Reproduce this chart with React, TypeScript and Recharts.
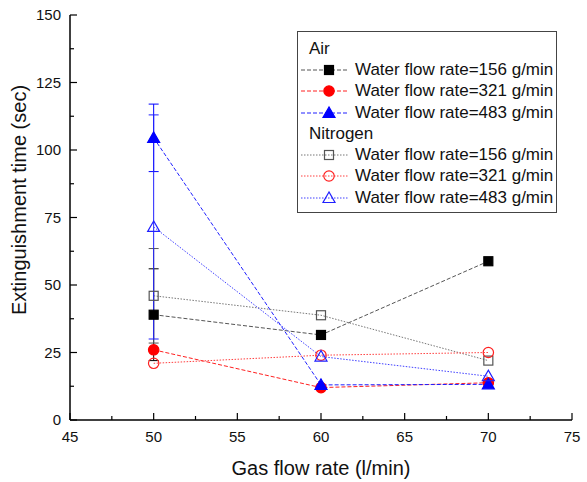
import { ComposedChart, Line, XAxis, YAxis, ErrorBar, Legend } from 'recharts'

const FONT = '"Liberation Sans", Arial, sans-serif'

// gas flow rate (l/min)
const gasFlow = [50, 60, 70]

// extinguishment time (sec)
const air156 = [39, 31.5, 58.8]
const air321 = [26, 12, 13.8]
const air483 = [104.5, 13, 13.2]
const n2156 = [46, 38.8, 22]
const n2321 = [21, 24, 25]
const n2483 = [71.5, 23.5, 16.2]

// error bars only at 50 l/min
const air156Err = [17, null, null]
const air483Err = [12.5, null, null]
const n2156Err = [17.5, null, null]
const n2483Err = [41.5, null, null]

const xTicks = [45, 47.5, 50, 52.5, 55, 57.5, 60, 62.5, 65, 67.5, 70, 72.5, 75]
const yTicks = [0, 12.5, 25, 37.5, 50, 62.5, 75, 87.5, 100, 112.5, 125, 137.5, 150]

const data = gasFlow.map((x, i) => ({
  x,
  air156: air156[i],
  air321: air321[i],
  air483: air483[i],
  n2156: n2156[i],
  n2321: n2321[i],
  n2483: n2483[i],
  air156Err: air156Err[i],
  air483Err: air483Err[i],
  n2156Err: n2156Err[i],
  n2483Err: n2483Err[i],
}))

type Shape = 'square' | 'circle' | 'triangle'

interface SeriesDef {
  key: string
  group: 'Air' | 'Nitrogen'
  name: string
  line: string
  mark: string
  dash: string
  shape: Shape
  filled: boolean
  errKey?: string
}

const SERIES: SeriesDef[] = [
  { key: 'air156', group: 'Air', name: 'Water flow rate=156 g/min', line: '#555', mark: '#000', dash: '4 2', shape: 'square', filled: true, errKey: 'air156Err' },
  { key: 'air321', group: 'Air', name: 'Water flow rate=321 g/min', line: '#ff2020', mark: '#ff0000', dash: '4 2', shape: 'circle', filled: true },
  { key: 'air483', group: 'Air', name: 'Water flow rate=483 g/min', line: '#2020ff', mark: '#0000ff', dash: '4 2', shape: 'triangle', filled: true, errKey: 'air483Err' },
  { key: 'n2156', group: 'Nitrogen', name: 'Water flow rate=156 g/min', line: '#777', mark: '#555', dash: '1.5 1.5', shape: 'square', filled: false, errKey: 'n2156Err' },
  { key: 'n2321', group: 'Nitrogen', name: 'Water flow rate=321 g/min', line: '#ff4040', mark: '#ff2020', dash: '1.5 1.5', shape: 'circle', filled: false },
  { key: 'n2483', group: 'Nitrogen', name: 'Water flow rate=483 g/min', line: '#4040ff', mark: '#2020ff', dash: '1.5 1.5', shape: 'triangle', filled: false, errKey: 'n2483Err' },
]

function markerShape(shape: Shape, color: string, filled: boolean, cx: number, cy: number, key?: any) {
  const fill = filled ? color : 'none'
  if (shape === 'square') {
    return <rect key={key} x={cx - 4.5} y={cy - 4.5} width={9} height={9} fill={fill} stroke={color} strokeWidth={1.2} />
  }
  if (shape === 'circle') {
    return <circle key={key} cx={cx} cy={cy} r={5.2} fill={fill} stroke={color} strokeWidth={1.2} />
  }
  return (
    <polygon
      key={key}
      points={`${cx},${cy - 6} ${cx - 6},${cy + 4.5} ${cx + 6},${cy + 4.5}`}
      fill={fill}
      stroke={color}
      strokeWidth={1.2}
    />
  )
}

const makeDot = (s: SeriesDef) => (props: any) => {
  const { cx, cy, index } = props
  if (cx == null || cy == null) return <g key={index} />
  return markerShape(s.shape, s.mark, s.filled, cx, cy, index)
}

const BottomTick = (props: any) => {
  const { x, y, payload } = props
  const major = payload.value % 5 === 0
  return (
    <g>
      <line x1={x} y1={y} x2={x} y2={y - (major ? 7 : 4)} stroke="#000" strokeWidth={1.2} />
      {major && (
        <text x={x} y={y + 22} textAnchor="middle" fontSize={15} fontFamily={FONT} fill="#111">
          {payload.value}
        </text>
      )}
    </g>
  )
}

const TopTick = (props: any) => {
  const { x, y, payload } = props
  const major = payload.value % 5 === 0
  return <line x1={x} y1={y} x2={x} y2={y + (major ? 7 : 4)} stroke="#000" strokeWidth={1.2} />
}

const LeftTick = (props: any) => {
  const { x, y, payload } = props
  const major = payload.value % 25 === 0
  return (
    <g>
      <line x1={x} y1={y} x2={x + (major ? 7 : 4)} y2={y} stroke="#000" strokeWidth={1.2} />
      {major && (
        <text x={x - 9} y={y + 5} textAnchor="end" fontSize={15} fontFamily={FONT} fill="#111">
          {payload.value}
        </text>
      )}
    </g>
  )
}

const RightTick = (props: any) => {
  const { x, y, payload } = props
  const major = payload.value % 25 === 0
  return <line x1={x} y1={y} x2={x - (major ? 7 : 4)} y2={y} stroke="#000" strokeWidth={1.2} />
}

const LegendBox = () => {
  const rows: { kind: 'head' | 'item'; text: string; s?: SeriesDef }[] = []
  for (const g of ['Air', 'Nitrogen']) {
    rows.push({ kind: 'head', text: g })
    SERIES.filter((s) => s.group === g).forEach((s) => rows.push({ kind: 'item', text: s.name, s }))
  }
  return (
    <div
      style={{
        border: '1px solid #444',
        background: '#fff',
        padding: '6px 0 4px 0',
        fontFamily: FONT,
        fontSize: 17,
        color: '#111',
        boxSizing: 'border-box',
        width: 260,
      }}
    >
      {rows.map((r, i) =>
        r.kind === 'head' ? (
          <div key={i} style={{ height: 21.3, lineHeight: '21.3px', paddingLeft: 11 }}>
            {r.text}
          </div>
        ) : (
          <div key={i} style={{ height: 21.3, display: 'flex', alignItems: 'center' }}>
            <svg width={55} height={20} style={{ marginLeft: 2, flex: 'none' }}>
              <line x1={1} y1={10} x2={48} y2={10} stroke={r.s!.line} strokeDasharray={r.s!.dash} strokeWidth={1} />
              {markerShape(r.s!.shape, r.s!.mark, r.s!.filled, 29, 10)}
            </svg>
            <span style={{ whiteSpace: 'nowrap' }}>{r.text}</span>
          </div>
        ),
      )}
    </div>
  )
}

export default function App() {
  return (
    <div style={{ position: 'absolute', left: 0, top: 0, width: 587, height: 482, background: '#fff' }}>
      <ComposedChart width={587} height={482} data={data} margin={{ top: 15, right: 15, left: 8, bottom: 12 }}>
        <XAxis
          dataKey="x"
          type="number"
          domain={[45, 75]}
          ticks={xTicks}
          interval={0}
          allowDataOverflow
          tick={BottomTick}
          tickLine={false}
          tickSize={0}
          tickMargin={0}
          height={50}
          axisLine={{ stroke: '#000', strokeWidth: 1.5 }}
          label={{
            content: () => (
              <text x={321} y={475} textAnchor="middle" fontSize={20} fontFamily={FONT} fill="#111">
                Gas flow rate (l/min)
              </text>
            ),
          }}
        />
        <XAxis
          xAxisId="top"
          orientation="top"
          dataKey="x"
          type="number"
          domain={[45, 75]}
          ticks={xTicks}
          interval={0}
          allowDataOverflow
          tick={TopTick}
          tickLine={false}
          tickSize={0}
          tickMargin={0}
          height={0}
          axisLine={{ stroke: '#000', strokeWidth: 1.5 }}
        />
        <YAxis
          type="number"
          domain={[0, 150]}
          ticks={yTicks}
          interval={0}
          allowDataOverflow
          tick={LeftTick}
          tickLine={false}
          tickSize={0}
          tickMargin={0}
          width={62}
          axisLine={{ stroke: '#000', strokeWidth: 1.5 }}
          label={{
            content: () => (
              <text
                x={26}
                y={200}
                transform="rotate(-90 26 200)"
                textAnchor="middle"
                fontSize={20}
                fontFamily={FONT}
                fill="#111"
              >
                Extinguishment time (sec)
              </text>
            ),
          }}
        />
        <YAxis
          yAxisId="right"
          orientation="right"
          type="number"
          domain={[0, 150]}
          ticks={yTicks}
          interval={0}
          allowDataOverflow
          tick={RightTick}
          tickLine={false}
          tickSize={0}
          tickMargin={0}
          width={0}
          axisLine={{ stroke: '#000', strokeWidth: 1.5 }}
        />
        <Legend
          layout="horizontal"
          verticalAlign="middle"
          align="center"
          wrapperStyle={{ left: 297, top: 31, width: 260 }}
          content={() => <LegendBox />}
        />
        {SERIES.map((s) => (
          <Line
            key={s.key}
            dataKey={s.key}
            name={s.name}
            type="linear"
            stroke={s.line}
            strokeWidth={1}
            strokeDasharray={s.dash}
            dot={makeDot(s)}
            activeDot={false}
            isAnimationActive={false}
          >
            {s.errKey && (
              <ErrorBar dataKey={s.errKey} direction="y" width={5} stroke={s.mark} strokeWidth={1} />
            )}
          </Line>
        ))}
      </ComposedChart>
    </div>
  )
}
